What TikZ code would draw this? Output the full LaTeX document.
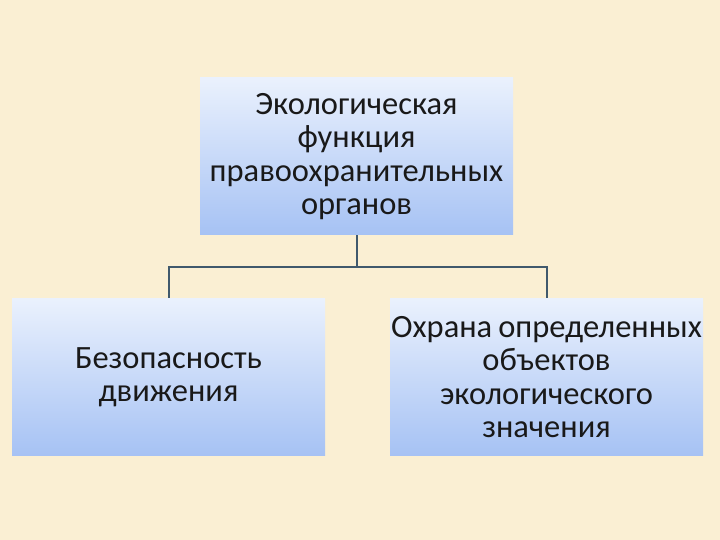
\documentclass[tikz,border=0pt]{standalone}
\usepackage{fontspec}
\setmainfont{Carlito}
\definecolor{paper}{HTML}{FAEFD3}
\definecolor{boxtop}{HTML}{EAF1FD}
\definecolor{boxbottom}{HTML}{A6C2F4}
\definecolor{wire}{HTML}{40596C}
\tikzset{
  funcbox/.style={rectangle, minimum width=313pt, minimum height=157pt,
    top color=boxtop, bottom color=boxbottom, text width=313pt, align=center,
    inner sep=0pt, font=\fontsize{32.5}{33.5}\selectfont, text=black!90},
  wireline/.style={wire, line width=2pt}
}
\begin{document}
\begin{tikzpicture}[x=1pt, y=1pt]
    % background
    \fill[paper] (0,0) rectangle (720,540);
    \useasboundingbox (0,0) rectangle (720,540);

    \node[funcbox] (eco) at (356.5,383.5) {Экологическая\\функция\\правоохранительных\\органов};
    \node[funcbox] (traffic) at (168.5,163) {Безопасность\\движения};
    \node[funcbox] (guard) at (546.5,163) {Охрана\hspace{6pt}определенных\\объектов\\экологического\\значения};

    % connectors
    \coordinate (fork) at (356.5,273);
    \draw[wireline] (eco.south) -- (fork);
    \draw[wireline] (fork) -| (traffic.north);
    \draw[wireline] (fork) -| (guard.north);
\end{tikzpicture}
\end{document}
